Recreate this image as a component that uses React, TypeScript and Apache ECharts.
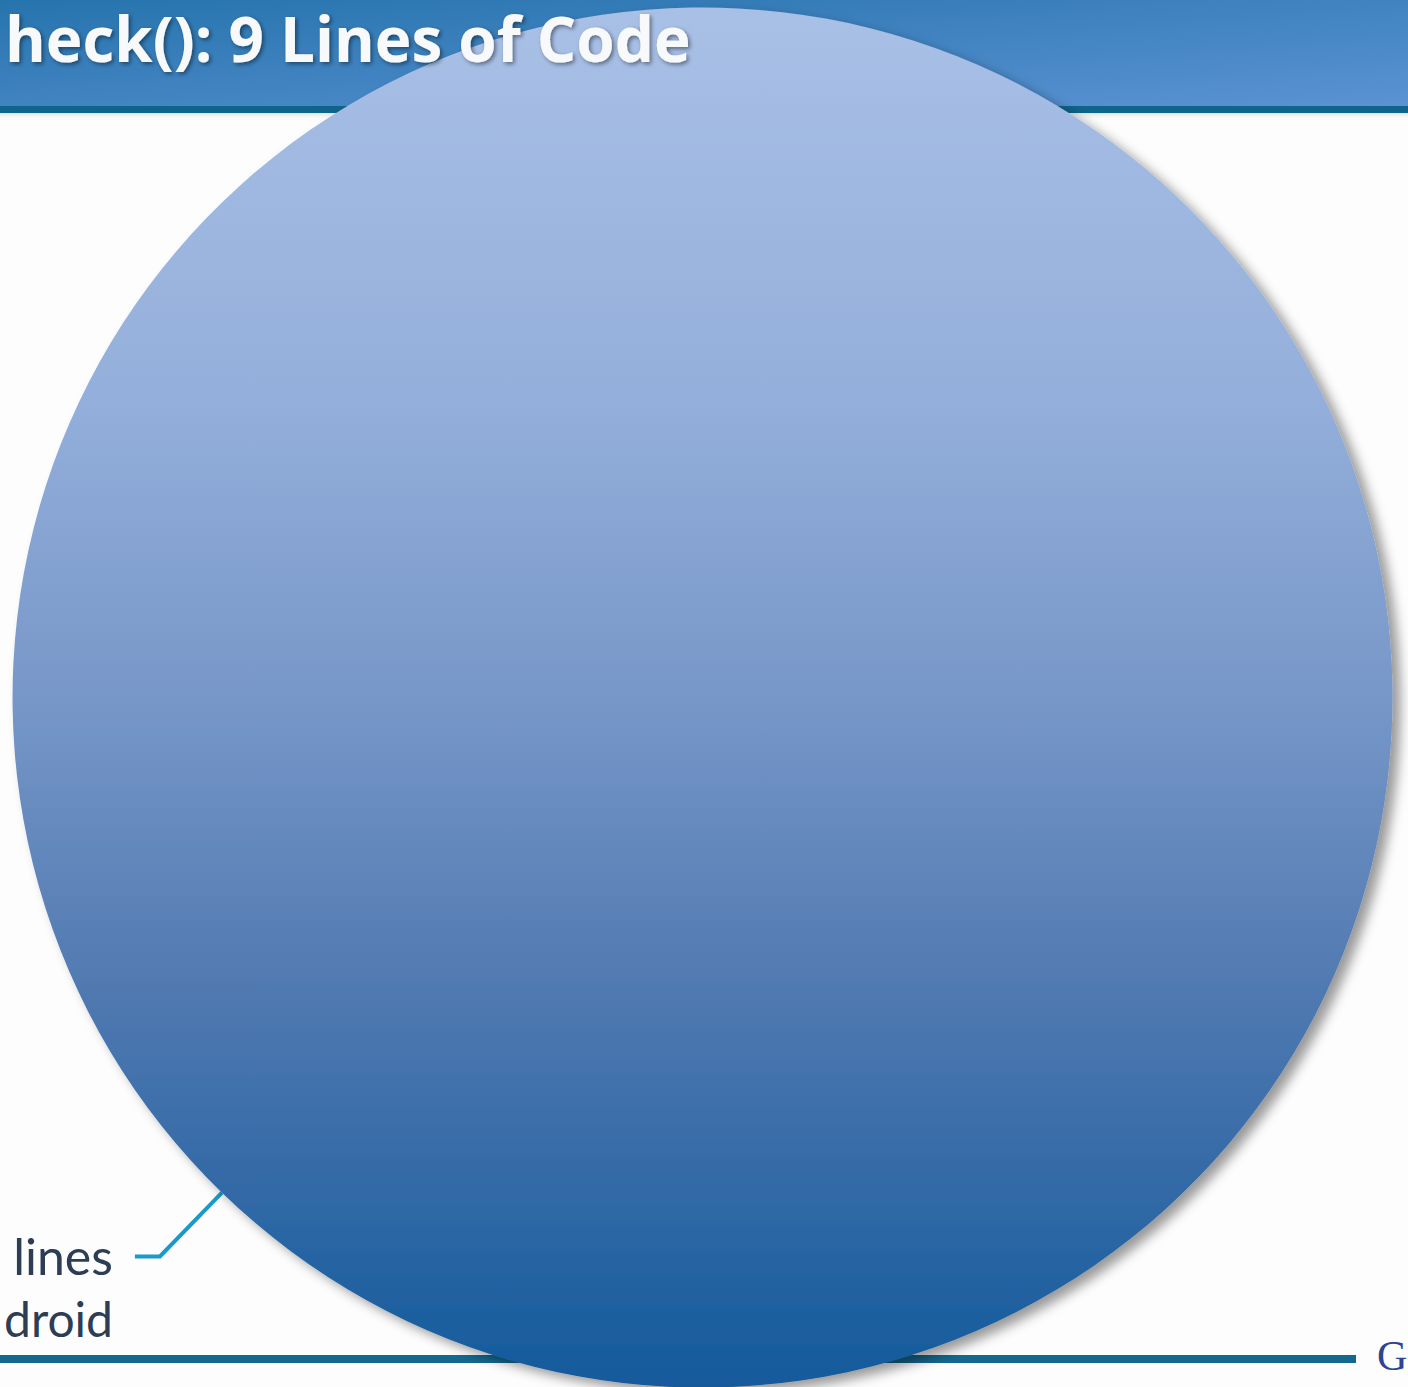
import React, { useEffect, useRef } from "react";
import * as echarts from "echarts";

const titleText = "heck(): 9 Lines of Code";
const sliceNames = ["lines", "Android"];
const sliceValues = [9, 12000000];
const secondLineText = "droid";
const cornerText = "G";

export default function App() {
  const ref = useRef<HTMLDivElement>(null);
  useEffect(() => {
    document.body.style.margin = "0";
    const chart = echarts.init(ref.current!, null, { renderer: "svg" });
    const pieGradient = new echarts.graphic.LinearGradient(0, 0, 0, 1, [
      { offset: 0, color: "#a9c0e6" },
      { offset: 0.28, color: "#94afdb" },
      { offset: 0.5, color: "#7797c8" },
      { offset: 0.72, color: "#4f78b0" },
      { offset: 1, color: "#135a9c" },
    ]);
    const tinyAngle = (sliceValues[0] / (sliceValues[0] + sliceValues[1])) * 360;
    const option: any = {
      animation: false,
      backgroundColor: "#fdfdfd",
      graphic: [
        {
          type: "rect",
          z: 0,
          shape: { x: 0, y: 0, width: 1408, height: 106 },
          style: {
            fill: new echarts.graphic.LinearGradient(0, 0, 1, 1, [
              { offset: 0, color: "#2674ad" },
              { offset: 1, color: "#5b92d4" },
            ]),
          },
        },
        {
          type: "rect",
          z: 0,
          shape: { x: 0, y: 106, width: 1408, height: 7 },
          style: { fill: "#0f6489" },
        },
        {
          type: "rect",
          z: 0,
          shape: { x: 0, y: 113, width: 1408, height: 8 },
          style: {
            fill: new echarts.graphic.LinearGradient(0, 0, 0, 1, [
              { offset: 0, color: "rgba(120,150,160,0.25)" },
              { offset: 1, color: "rgba(255,255,255,0)" },
            ]),
          },
        },
        {
          type: "text",
          z: 100,
          x: 5,
          y: 38,
          style: {
            text: titleText,
            fill: "#f8f9fb",
            font: "bold 62px 'Open Sans'",
            lineHeight: 62,
            verticalAlign: "middle",
            align: "left",
            textShadowColor: "rgba(0,0,0,0.45)",
            textShadowBlur: 4,
            textShadowOffsetX: 2,
            textShadowOffsetY: 2,
          },
        },
        {
          type: "rect",
          z: 0,
          shape: { x: 0, y: 1355, width: 1356, height: 8 },
          style: { fill: "#14688f" },
        },
        {
          type: "text",
          z: 10,
          x: 1377,
          y: 1356,
          style: {
            text: cornerText,
            fill: "#2c4590",
            font: "42px 'Liberation Serif'",
            verticalAlign: "middle",
            align: "left",
          },
        },
        {
          type: "text",
          z: 10,
          x: 113,
          y: 1318,
          style: {
            text: secondLineText,
            fill: "#2c3d55",
            font: "48px Lato",
            verticalAlign: "middle",
            align: "right",
          },
        },
      ],
      series: [
        {
          type: "pie",
          z: 2,
          center: [703, 698],
          radius: [0, 690],
          startAngle: 225.8 + tinyAngle / 2,
          clockwise: true,
          avoidLabelOverlap: false,
          itemStyle: {
            color: pieGradient,
            borderWidth: 0,
            shadowBlur: 12,
            shadowOffsetX: 8,
            shadowOffsetY: 6,
            shadowColor: "rgba(0,0,0,0.4)",
          },
          label: {
            show: true,
            position: "outside",
            formatter: "{b}",
            color: "#2c3d55",
            fontFamily: "Lato",
            fontSize: 50,
            distanceToLabelLine: 22,
          },
          labelLine: {
            show: true,
            length: 89,
            length2: 25,
            lineStyle: { color: "#1a9ac8", width: 4 },
          },
          data: sliceNames.map((n, i) => ({
            name: n,
            value: sliceValues[i],
            label: i === 0 ? {} : { show: false },
            labelLine: i === 0 ? {} : { show: false },
          })),
        },
      ],
    };
    chart.setOption(option);
    return () => chart.dispose();
  }, []);
  return <div ref={ref} style={{ width: 1408, height: 1387 }} />;
}
